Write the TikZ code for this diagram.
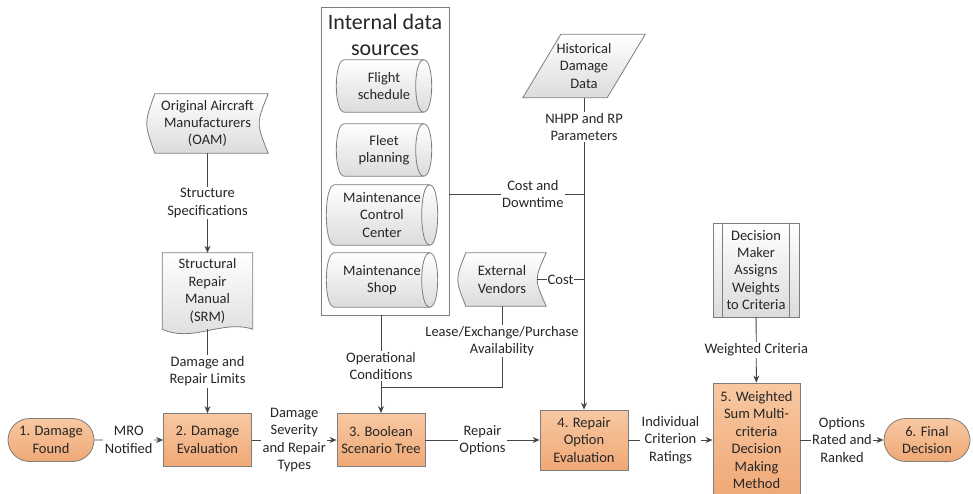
\documentclass[tikz,border=0pt]{standalone}
\usepackage{fontspec}
\setmainfont{Carlito}
\usetikzlibrary{arrows.meta,shapes.misc,calc,backgrounds}

\definecolor{boxTop}{RGB}{248,200,162}
\definecolor{boxBot}{RGB}{240,168,118}
\definecolor{lineGray}{RGB}{70,70,70}
\definecolor{edgeGray}{RGB}{125,125,125}

% outline of a stored data shape round node #1
\newcommand{\storedpath}[1]{%
  \path[grayfill] ([xshift=8pt]#1.north west) -- (#1.north east)
    .. controls ($(#1.north east)!0.5!(#1.south east)+(-12,0)$) .. (#1.south east)
    -- ([xshift=8pt]#1.south west)
    .. controls ($(#1.north west)!0.5!(#1.south west)+(-2.7,0)$) .. ([xshift=8pt]#1.north west) -- cycle;}
% outline of a document shape round node #1
\newcommand{\docpath}[1]{%
  \path[grayfill] (#1.south west) -- (#1.north west) -- (#1.north east) -- (#1.south east)
    .. controls ($(#1.south east)+(-30,-10)$) and ($(#1.south west)+(30,14)$) .. (#1.south west) -- cycle;}
% outline of a data (parallelogram) shape round node #1, slant #2
\newcommand{\parapath}[2]{%
  \path[grayfill] (#1.south west) -- ([xshift=-#2]#1.south east) -- (#1.north east)
    -- ([xshift=#2]#1.north west) -- cycle;}
% outline of a direct access storage (drum) round node #1
\newcommand{\drumpath}[1]{%
  \path[grayfill] ([xshift=8pt]#1.north west) -- ([xshift=-8pt]#1.north east)
    .. controls +(10.67,0) and +(10.67,0) .. ([xshift=-8pt]#1.south east)
    -- ([xshift=8pt]#1.south west)
    .. controls +(-10.67,0) and +(-10.67,0) .. ([xshift=8pt]#1.north west) -- cycle;
  \draw[edgeGray, line width=0.8pt] ([xshift=-8pt]#1.north east)
    .. controls +(-10.67,0) and +(-10.67,0) .. ([xshift=-8pt]#1.south east);}

\begin{document}
\begin{tikzpicture}[x=1pt, y=-1pt,
    every node/.style={font=\fontsize{14.5}{17.4}\selectfont, text=black!85, align=center, inner sep=1pt},
    procbox/.style={rectangle, draw=edgeGray, line width=0.8pt, top color=boxTop, bottom color=boxBot},
    termbox/.style={rounded rectangle, draw=edgeGray, line width=0.8pt, top color=boxTop, bottom color=boxBot,
                    minimum width=88pt, minimum height=43pt},
    grayfill/.style={draw=edgeGray, line width=0.8pt, top color=white, bottom color=black!14},
    lbl/.style={fill=white, inner sep=1.5pt},
    flow/.style={draw=lineGray, line width=0.9pt, -{Stealth[length=7pt,width=6pt]}},
    link/.style={draw=lineGray, line width=0.9pt}]

  \useasboundingbox (0,0) rectangle (973,494);
  \clip (0,0) rectangle (973,494);

  % main process row
  \node[termbox] (dmgFound) at (51,440) {1. Damage\\Found};
  \node[procbox, minimum width=88pt, minimum height=53pt] (dmgEval) at (207.5,440) {2. Damage\\Evaluation};
  \node[procbox, minimum width=88pt, minimum height=53pt] (boolTree) at (381,440) {3. Boolean\\Scenario Tree};
  \node[procbox, minimum width=88pt, minimum height=60pt] (repEval) at (584,440) {4. Repair\\Option\\Evaluation};
  \node[procbox, minimum width=87pt, minimum height=114pt] (wsmMethod) at (756.5,440) {5. Weighted\\Sum Multi-\\criteria\\Decision\\Making\\Method};
  \node[termbox] (finalDec) at (927,440) {6. Final\\Decision};

  % inputs
  \node[minimum width=121pt, minimum height=59pt] (oam) at (207.5,123.5) {Original Aircraft\\Manufacturers\\(OAM)};
  \node[minimum width=90pt, minimum height=76pt] (srm) at (207.5,291) {Structural\\Repair\\Manual\\(SRM)};

  \node[draw=edgeGray, line width=0.8pt, minimum width=128pt, minimum height=308pt] (intSrc) at (385,161) {};
  \node[font=\fontsize{22}{26}\selectfont] (intTitle) at (385,35) {Internal data\\sources};
  \node[minimum width=95pt, minimum height=52pt] (flight) at (384,86) {Flight\\schedule};
  \node[minimum width=95pt, minimum height=52pt] (fleet) at (384,150) {Fleet\\planning};
  \node[minimum width=111pt, minimum height=60pt] (mcc) at (382,215) {Maintenance\\Control\\Center};
  \node[minimum width=111pt, minimum height=54pt] (shop) at (382,280) {Maintenance\\Shop};

  \node[minimum width=122pt, minimum height=63pt] (histData) at (584,66) {Historical\\Damage\\Data};
  \node[minimum width=88pt, minimum height=53pt] (extVend) at (502,279.5) {External\\Vendors};
  \node[rectangle, grayfill, minimum width=86pt, minimum height=94pt] (dMaker) at (756,270) {Decision\\Maker\\Assigns\\Weights\\to Criteria};
  \draw[edgeGray, line width=0.8pt] ([xshift=10pt]dMaker.north west) -- ([xshift=10pt]dMaker.south west)
    ([xshift=-10pt]dMaker.north east) -- ([xshift=-10pt]dMaker.south east);

  \begin{scope}[on background layer]
    \storedpath{oam}
    \storedpath{extVend}
    \docpath{srm}
    \parapath{histData}{38pt}
    \drumpath{flight}
    \drumpath{fleet}
    \drumpath{mcc}
    \drumpath{shop}
  \end{scope}

  % connectors
  \draw[flow] (dmgFound) -- node[lbl]{MRO\\Notified} (dmgEval);
  \draw[flow] (dmgEval) -- node[lbl]{Damage\\Severity\\and Repair\\Types} (boolTree);
  \draw[flow] (boolTree) -- node[lbl]{Repair\\Options} (repEval);
  \draw[flow] (repEval) -- node[lbl]{Individual\\Criterion\\Ratings} (wsmMethod);
  \draw[flow] (wsmMethod) -- node[lbl]{Options\\Rated and\\Ranked} (finalDec);

  \draw[flow] (oam) -- node[lbl]{Structure\\Specifications} (srm);
  \draw[flow] (srm) -- node[lbl]{Damage and\\Repair Limits} (dmgEval);
  \draw[flow] (dMaker) -- node[lbl]{Weighted Criteria} (wsmMethod);
  \draw[flow] (histData) -- node[lbl, pos=0.094]{NHPP and RP\\Parameters} (repEval);

  \coordinate (costStart) at ($(intSrc.east)+(0,33)$);
  \draw[link] (costStart) -- node[lbl, pos=0.62]{Cost and\\Downtime} (costStart -| repEval.north);
  \coordinate (vendCost) at ($(extVend.east)+(-9,0)$);
  \draw[link] (vendCost) -- node[lbl, inner sep=0.5pt]{Cost} (vendCost -| repEval.north);

  \coordinate (opsJoin) at ($(boolTree.north)+(0,-26)$);
  \draw[flow] (intSrc.south -| boolTree.north) -- node[lbl, pos=0.52]{Operational\\Conditions} (boolTree.north);
  \draw[link] (extVend.south) -- node[lbl, pos=0.43]{Lease/Exchange/Purchase\\Availability} (extVend.south |- opsJoin) -- (opsJoin);

\end{tikzpicture}
\end{document}
